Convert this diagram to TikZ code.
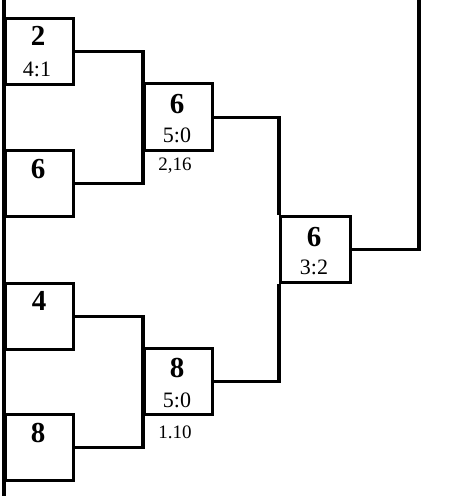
\documentclass[tikz,border=0pt]{standalone}
\usepackage{fontspec}
\setmainfont{Liberation Serif}
\begin{document}
\begin{tikzpicture}[x=1pt,y=-1pt,
  line width=3.3pt,
  box/.style={draw, line width=3.3pt, minimum width=68pt, minimum height=66pt, inner sep=0pt, anchor=north west},
  num/.style={font=\fontsize{29}{29}\selectfont\bfseries, inner sep=0pt},
  score/.style={font=\fontsize{22}{22}\selectfont, inner sep=0pt},
  note/.style={font=\fontsize{19}{19}\selectfont, inner sep=0pt}]
\useasboundingbox (0,0) rectangle (475,496);
\coordinate (lt) at (4,0);
\coordinate (lb) at (4,496);
\coordinate (top) at (419,0);
% boxes
\node[box] (b2) at (4,17) {};
\node[box] (b6) at (4,149) {};
\node[box] (b4) at (4,282) {};
\node[box] (b8) at (4,413) {};
\node[box, minimum height=67pt] (m1) at (143,82) {};
\node[box] (m2) at (143,347) {};
\node[box, minimum width=70pt] (f) at (279,215) {};
% texts
\node[num] (t2) at (38,36) {2};
\node[score] (s2) at (37,69) {4:1};
\node[num] (t6) at (38,169) {6};
\node[num] (t4) at (39,301) {4};
\node[num] (t8) at (38,433) {8};
\node[num] (tm1) at (177,104) {6};
\node[score] (sm1) at (177,135) {5:0};
\node[note] (nm1) at (175,166) {2,16};
\node[num] (tm2) at (177,368) {8};
\node[score] (sm2) at (177,400) {5:0};
\node[note] (nm2) at (175,432) {1.10};
\node[num] (tf) at (314,237) {6};
\node[score] (sf) at (314,267) {3:2};
% connectors
\draw (lt) -- (lb);
\draw (b2.east) -| (m1.north west) -- (m1.south west) |- (b6.east);
\draw (b4.east) -| (m2.north west) -- (m2.south west) |- (b8.east);
\draw (m1.east) -| (f.north west);
\draw (f.south west) |- (m2.east);
\draw (f.east) -| (top);
\end{tikzpicture}
\end{document}
